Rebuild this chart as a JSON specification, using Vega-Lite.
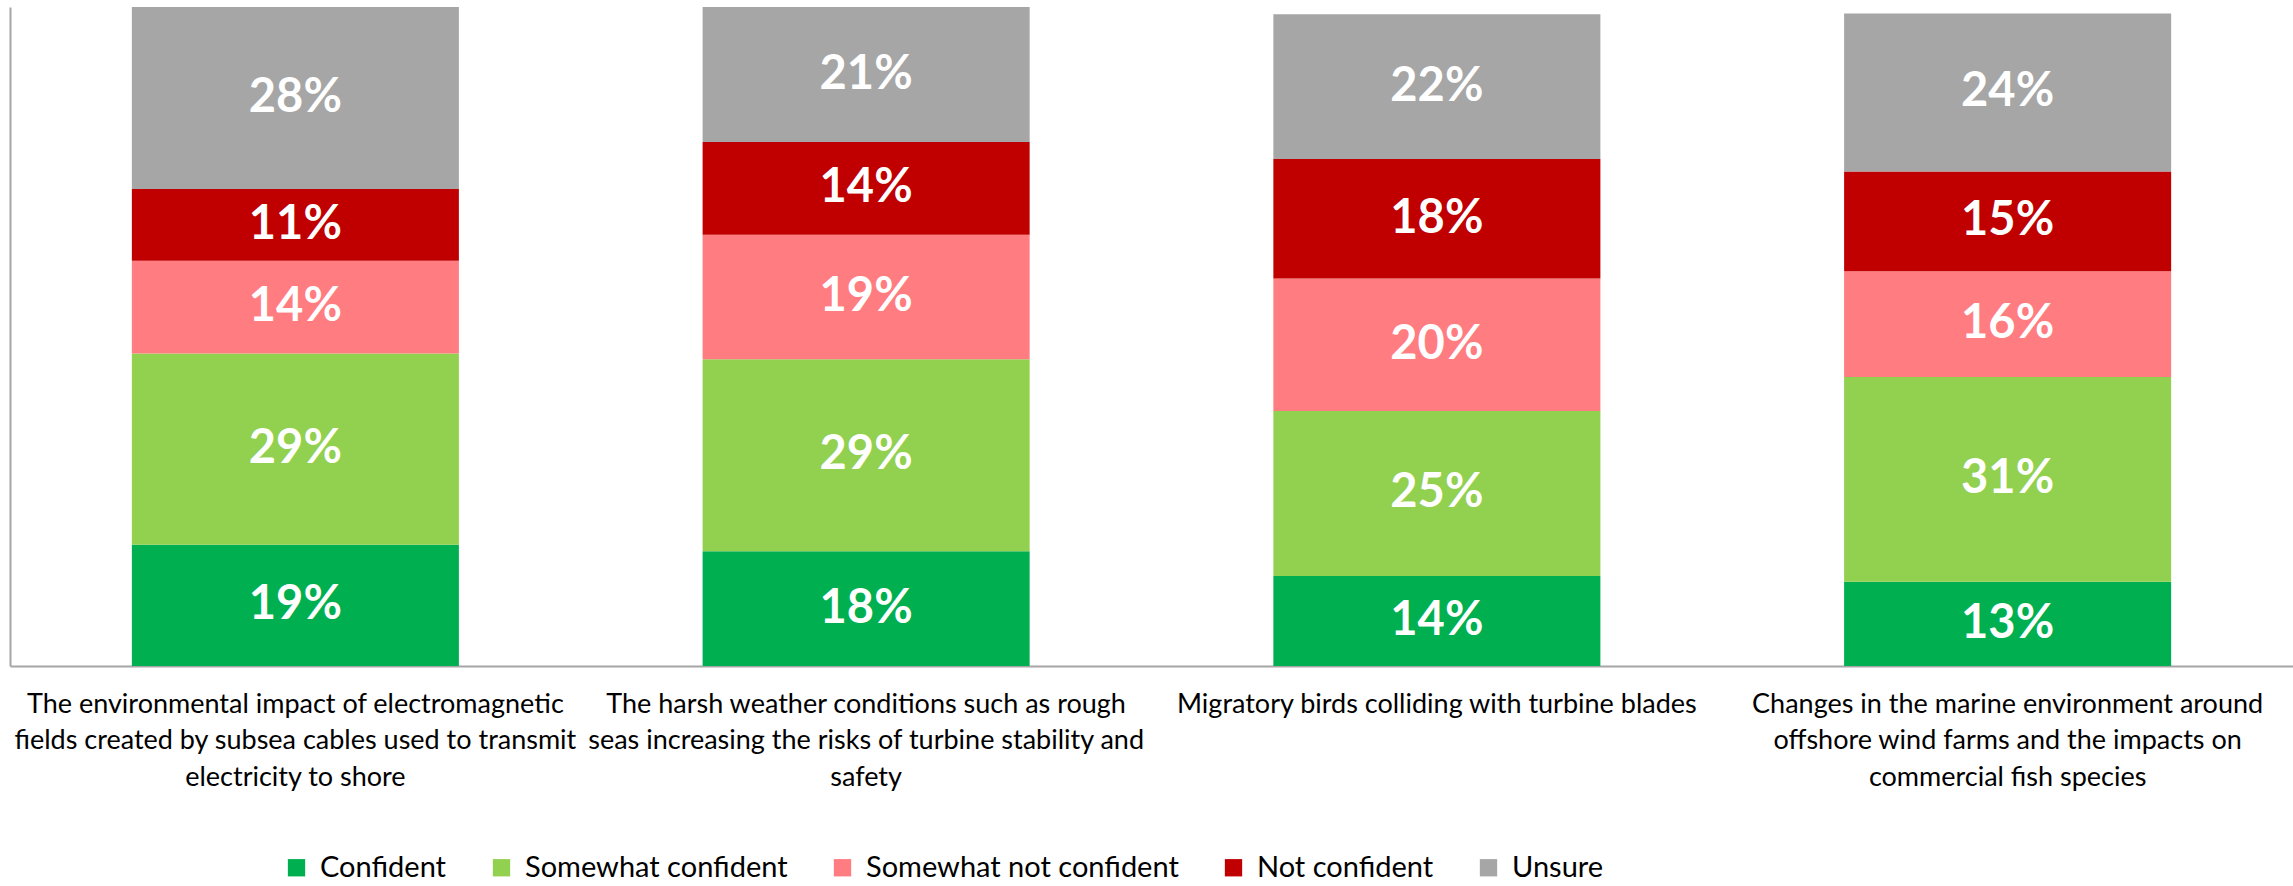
{
  "$schema": "https://vega.github.io/schema/vega-lite/v6.json",
  "width": 2283,
  "height": 659,
  "autosize": {"type": "none"},
  "padding": {"left": 10, "top": 7, "right": 0, "bottom": 220},
  "background": "white",
  "config": {"view": {"stroke": null}, "font": "Lato"},
  "data": {
    "values": [
      {"topic": "The environmental impact of electromagnetic fields created by subsea cables used to transmit electricity to shore", "response": "Confident", "rank": 1, "pct": 0.186},
      {"topic": "The environmental impact of electromagnetic fields created by subsea cables used to transmit electricity to shore", "response": "Somewhat confident", "rank": 2, "pct": 0.293},
      {"topic": "The environmental impact of electromagnetic fields created by subsea cables used to transmit electricity to shore", "response": "Somewhat not confident", "rank": 3, "pct": 0.142},
      {"topic": "The environmental impact of electromagnetic fields created by subsea cables used to transmit electricity to shore", "response": "Not confident", "rank": 4, "pct": 0.110},
      {"topic": "The environmental impact of electromagnetic fields created by subsea cables used to transmit electricity to shore", "response": "Unsure", "rank": 5, "pct": 0.279},
      {"topic": "The harsh weather conditions such as rough seas increasing the risks of turbine stability and safety", "response": "Confident", "rank": 1, "pct": 0.176},
      {"topic": "The harsh weather conditions such as rough seas increasing the risks of turbine stability and safety", "response": "Somewhat confident", "rank": 2, "pct": 0.294},
      {"topic": "The harsh weather conditions such as rough seas increasing the risks of turbine stability and safety", "response": "Somewhat not confident", "rank": 3, "pct": 0.191},
      {"topic": "The harsh weather conditions such as rough seas increasing the risks of turbine stability and safety", "response": "Not confident", "rank": 4, "pct": 0.142},
      {"topic": "The harsh weather conditions such as rough seas increasing the risks of turbine stability and safety", "response": "Unsure", "rank": 5, "pct": 0.207},
      {"topic": "Migratory birds colliding with turbine blades", "response": "Confident", "rank": 1, "pct": 0.138},
      {"topic": "Migratory birds colliding with turbine blades", "response": "Somewhat confident", "rank": 2, "pct": 0.253},
      {"topic": "Migratory birds colliding with turbine blades", "response": "Somewhat not confident", "rank": 3, "pct": 0.203},
      {"topic": "Migratory birds colliding with turbine blades", "response": "Not confident", "rank": 4, "pct": 0.183},
      {"topic": "Migratory birds colliding with turbine blades", "response": "Unsure", "rank": 5, "pct": 0.222},
      {"topic": "Changes in the marine environment around offshore wind farms and the impacts on commercial fish species", "response": "Confident", "rank": 1, "pct": 0.129},
      {"topic": "Changes in the marine environment around offshore wind farms and the impacts on commercial fish species", "response": "Somewhat confident", "rank": 2, "pct": 0.314},
      {"topic": "Changes in the marine environment around offshore wind farms and the impacts on commercial fish species", "response": "Somewhat not confident", "rank": 3, "pct": 0.162},
      {"topic": "Changes in the marine environment around offshore wind farms and the impacts on commercial fish species", "response": "Not confident", "rank": 4, "pct": 0.153},
      {"topic": "Changes in the marine environment around offshore wind farms and the impacts on commercial fish species", "response": "Unsure", "rank": 5, "pct": 0.242}
    ]
  },
  "encoding": {
    "x": {
      "field": "topic",
      "type": "nominal",
      "sort": null,
      "scale": {"paddingInner": 0.427, "paddingOuter": 0.2135},
      "axis": {
        "title": null,
        "labelAngle": 0,
        "ticks": false,
        "domainColor": "#a6a6a6",
        "domainWidth": 2,
        "labelFont": "Lato",
        "labelFontSize": 27,
        "labelColor": "#000000",
        "labelLineHeight": 36.5,
        "labelPadding": 25,
        "labelLimit": 0,
        "labelOverlap": false,
        "labelBound": false,
        "labelExpr": "datum.label == 'The environmental impact of electromagnetic fields created by subsea cables used to transmit electricity to shore' ? ['The environmental impact of electromagnetic', 'fields created by subsea cables used to transmit', 'electricity to shore'] : datum.label == 'The harsh weather conditions such as rough seas increasing the risks of turbine stability and safety' ? ['The harsh weather conditions such as rough', 'seas increasing the risks of turbine stability and', 'safety'] : datum.label == 'Changes in the marine environment around offshore wind farms and the impacts on commercial fish species' ? ['Changes in the marine environment around', 'offshore wind farms and the impacts on', 'commercial fish species'] : datum.label"
      }
    },
    "y": {
      "field": "pct",
      "type": "quantitative",
      "stack": "zero",
      "scale": {"domain": [0, 1.01], "nice": false},
      "axis": {"title": null, "labels": false, "ticks": false, "grid": false, "domainColor": "#a6a6a6", "domainWidth": 2}
    },
    "order": {"field": "rank", "type": "quantitative", "sort": "ascending"},
    "color": {
      "field": "response",
      "type": "nominal",
      "sort": ["Confident", "Somewhat confident", "Somewhat not confident", "Not confident", "Unsure"],
      "scale": {
        "domain": ["Confident", "Somewhat confident", "Somewhat not confident", "Not confident", "Unsure"],
        "range": ["#00B050", "#92D050", "#FF7C80", "#C00000", "#A6A6A6"]
      },
      "legend": {
        "orient": "none",
        "legendX": 272,
        "legendY": 846,
        "direction": "horizontal",
        "title": null,
        "symbolType": "square",
        "symbolSize": 300,
        "symbolStrokeWidth": 0,
        "labelFont": "Lato",
        "labelFontSize": 29,
        "labelColor": "#000000",
        "labelOffset": 9,
        "columnPadding": 40,
        "labelLimit": 0
      }
    }
  },
  "layer": [
    {"mark": {"type": "bar"}},
    {
      "mark": {"type": "text", "fontWeight": "bold", "fontSize": 47, "font": "Lato", "baseline": "middle", "align": "center"},
      "encoding": {
        "y": {"field": "pct", "type": "quantitative", "stack": "zero", "bandPosition": 0.5},
        "fill": {"value": "white"},
        "text": {"field": "pct", "type": "quantitative", "format": ".0%"}
      }
    }
  ]
}
